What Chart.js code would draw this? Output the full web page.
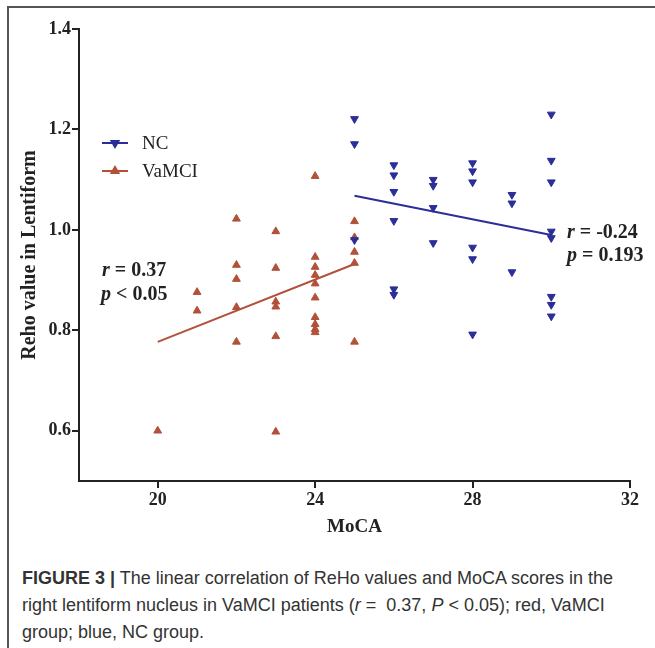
<!DOCTYPE html>
<html>
<head>
<meta charset="utf-8">
<script src="https://cdn.jsdelivr.net/npm/chart.js@4.4.1/dist/chart.umd.min.js"></script>
<style>
  body { margin: 0; background: #fff; width: 655px; height: 648px; overflow: hidden; position: relative; }
  #frame { position: absolute; left: 7px; top: 6px; width: 700px; height: 700px; border-left: 2px solid #555; border-top: 2px solid #555; }
  #chart { position: absolute; left: 0; top: 0; }
  #caption { position: absolute; left: 22px; top: 565px; font-family: 'Liberation Sans', Arial, sans-serif; font-size: 18px; line-height: 27px; color: #333; white-space: nowrap; }
</style>
</head>
<body>
<div id="frame"></div>
<canvas id="chart" width="655" height="560"></canvas>
<div id="caption"><b>FIGURE 3 |</b> The linear correlation of ReHo values and MoCA scores in the<br>right lentiform nucleus in VaMCI patients (<i>r</i> =&nbsp; 0.37, <i>P</i> &lt; 0.05); red, VaMCI<br>group; blue, NC group.</div>
<script>
const xTicks = [20, 24, 28, 32];
const yTicks = [0.6, 0.8, 1.0, 1.2, 1.4];

// VaMCI group (red, triangles up)
const vamciMoca = [20, 21, 21, 22, 22, 22, 22, 22, 23, 23, 23, 23, 23, 23,
  24, 24, 24, 24, 24, 24, 24, 24, 24, 24, 25, 25, 25, 25, 25];
const vamciReho = [0.600, 0.876, 0.839, 1.022, 0.930, 0.902, 0.846, 0.777,
  0.997, 0.924, 0.857, 0.847, 0.788, 0.598,
  1.107, 0.946, 0.926, 0.910, 0.893, 0.865, 0.826, 0.812, 0.802, 0.796,
  1.017, 0.985, 0.956, 0.934, 0.777];

// NC group (blue, triangles down)
const ncMoca = [25, 25, 25, 26, 26, 26, 26, 26, 26, 27, 27, 27, 27,
  28, 28, 28, 28, 28, 28, 29, 29, 29, 30, 30, 30, 30, 30, 30, 30, 30];
const ncReho = [1.221, 1.171, 0.980, 1.129, 1.109, 1.076, 1.018, 0.882, 0.871,
  1.100, 1.088, 1.044, 0.974, 1.133, 1.117, 1.095, 0.965, 0.942, 0.792,
  1.070, 1.053, 0.916, 1.230, 1.138, 1.095, 0.997, 0.984, 0.867, 0.851, 0.828];

// fitted lines
const vamciFitX = [20, 25];
const vamciFitY = [0.777, 0.932];
const ncFitX = [25, 30];
const ncFitY = [1.068, 0.990];

const RED = 'rgb(178, 80, 58)';
const BLUE = 'rgb(42, 46, 152)';
const INK = '#222';
const SERIF = '"Liberation Serif", "Times New Roman", serif';

const pts = (xs, ys) => xs.map((x, i) => ({ x: x, y: ys[i] }));

const annotate = {
  id: 'annotate',
  afterDraw(chart) {
    const ctx = chart.ctx;
    ctx.save();
    // legend
    const items = [
      { label: 'NC', color: BLUE, rot: 180, y: 143 },
      { label: 'VaMCI', color: RED, rot: 0, y: 171 }
    ];
    items.forEach(it => {
      ctx.strokeStyle = it.color;
      ctx.fillStyle = it.color;
      ctx.lineWidth = 2;
      ctx.beginPath();
      ctx.moveTo(102, it.y);
      ctx.lineTo(128, it.y);
      ctx.stroke();
      Chart.helpers.drawPoint(ctx, { pointStyle: 'triangle', radius: 4, rotation: it.rot, borderWidth: 1 }, 115, it.y);
      ctx.fillStyle = INK;
      ctx.font = '19px ' + SERIF;
      ctx.textBaseline = 'middle';
      ctx.fillText(it.label, 142, it.y + 1);
    });

    // stats text
    const stat = (x, y, letter, rest) => {
      ctx.fillStyle = INK;
      ctx.textBaseline = 'middle';
      ctx.font = 'italic bold 20px ' + SERIF;
      ctx.fillText(letter, x, y);
      const w = ctx.measureText(letter).width;
      ctx.font = 'bold 20px ' + SERIF;
      ctx.fillText(rest, x + w, y);
    };
    stat(102, 271, 'r', ' = 0.37');
    stat(101, 295, 'p', ' < 0.05');
    stat(567, 233, 'r', ' = -0.24');
    stat(567, 256, 'p', ' = 0.193');
    ctx.restore();
  }
};

new Chart(document.getElementById('chart'), {
  type: 'scatter',
  data: {
    datasets: [
      {
        label: 'NC',
        data: pts(ncMoca, ncReho),
        pointStyle: 'triangle',
        rotation: 180,
        radius: 4.5,
        backgroundColor: BLUE,
        borderColor: BLUE,
        borderWidth: 1
      },
      {
        label: 'VaMCI',
        data: pts(vamciMoca, vamciReho),
        pointStyle: 'triangle',
        radius: 4.5,
        backgroundColor: RED,
        borderColor: RED,
        borderWidth: 1
      },
      {
        label: 'NC fit',
        data: pts(ncFitX, ncFitY),
        showLine: true,
        pointRadius: 0,
        borderColor: BLUE,
        borderWidth: 2
      },
      {
        label: 'VaMCI fit',
        data: pts(vamciFitX, vamciFitY),
        showLine: true,
        pointRadius: 0,
        borderColor: RED,
        borderWidth: 2
      }
    ]
  },
  options: {
    responsive: false,
    animation: false,
    layout: { padding: { left: 0, top: 29, right: 25, bottom: 0 } },
    plugins: {
      legend: { display: false },
      tooltip: { enabled: false }
    },
    scales: {
      x: {
        type: 'linear',
        min: 18,
        max: 32,
        afterBuildTicks: s => { s.ticks = xTicks.map(v => ({ value: v })); },
        afterFit: s => { s.height = 79; },
        ticks: { color: INK, padding: 2, font: { family: SERIF, size: 18, weight: 'bold' } },
        grid: { drawOnChartArea: false, tickLength: 7, color: INK, lineWidth: 2 },
        border: { color: INK, width: 2 },
        title: {
          display: true,
          text: 'MoCA',
          color: INK,
          font: { family: SERIF, size: 19, weight: 'bold' },
          padding: { top: 4, bottom: 22 }
        }
      },
      y: {
        min: 0.5,
        max: 1.4,
        afterBuildTicks: s => { s.ticks = yTicks.map(v => ({ value: v })); },
        afterFit: s => { s.width = 79; },
        ticks: {
          color: INK,
          padding: 1,
          font: { family: SERIF, size: 18, weight: 'bold' },
          callback: v => v.toFixed(1)
        },
        grid: { drawOnChartArea: false, tickLength: 7, color: INK, lineWidth: 2 },
        border: { color: INK, width: 2 },
        title: {
          display: true,
          text: 'Reho value in Lentiform',
          color: INK,
          font: { family: SERIF, size: 20, weight: 'bold' },
          padding: { top: 18, bottom: 0 }
        }
      }
    }
  },
  plugins: [annotate]
});
</script>
</body>
</html>
